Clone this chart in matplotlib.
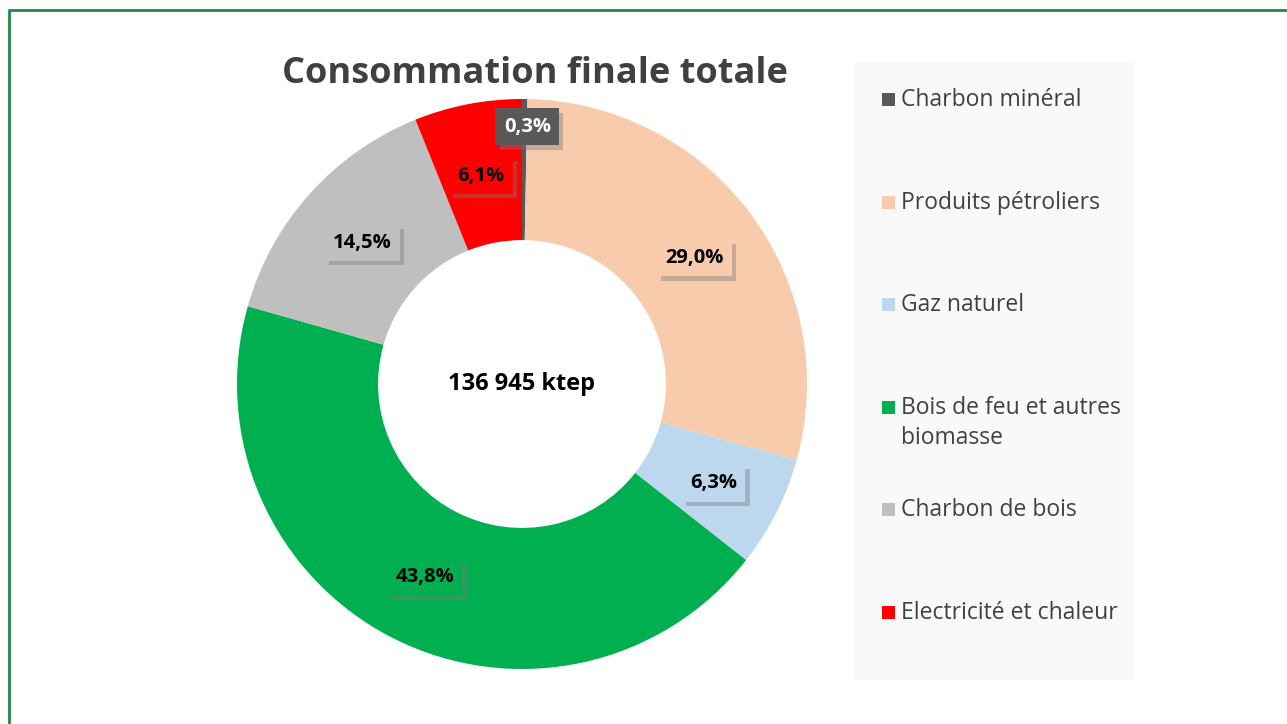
import numpy as np
import matplotlib
matplotlib.use("Agg")
import matplotlib.pyplot as plt
import matplotlib.patheffects as pe
from matplotlib.patches import Rectangle
from matplotlib.lines import Line2D

plt.rcParams['font.family'] = ['Open Sans', 'DejaVu Sans']

# data
categories = ["Charbon minéral", "Produits pétroliers", "Gaz naturel",
              "Bois de feu et autres\nbiomasse", "Charbon de bois",
              "Electricité et chaleur"]
shares = [0.3, 29.0, 6.3, 43.8, 14.5, 6.1]
colors = ["#595959", "#F8CBAD", "#BDD7EE", "#00B050", "#BFBFBF", "#FF0000"]
label_colors = ["white", "black", "black", "black", "black", "black"]
total_text = "136 945 ktep"
title = "Consommation finale totale"

W, H = 1287, 724
fig = plt.figure(figsize=(W / 100, H / 100), dpi=100)
fig.patch.set_facecolor("white")

# donut axes: center (522, 384) px, radius 285 px
cx, cy, r = 522, 384, 285
ax = fig.add_axes([(cx - r) / W, (H - cy - r) / H, 2 * r / W, 2 * r / H])
ax.set_aspect("equal")
ax.axis("off")

wedges, _ = ax.pie(shares, colors=colors, startangle=90, counterclock=False,
                   radius=1.0, wedgeprops=dict(width=0.495, edgecolor="none"))
ax.set_xlim(-1, 1)
ax.set_ylim(-1, 1)

# data labels
for i, w in enumerate(wedges):
    ang = np.deg2rad((w.theta1 + w.theta2) / 2)
    rr = 0.91 if shares[i] < 1 else 0.753
    x, y = rr * np.cos(ang), rr * np.sin(ang) - 0.008
    if shares[i] < 1:
        x += 0.01
    txt = f"{shares[i]:.1f}%".replace(".", ",")
    t = ax.text(x, y, txt, ha="center", va="center", fontsize=14.5,
                fontweight="bold", color=label_colors[i],
                bbox=dict(boxstyle="square,pad=0.42", facecolor=colors[i],
                          edgecolor="none"))
    t.get_bbox_patch().set_path_effects([
        pe.SimplePatchShadow(offset=(3, -3), shadow_rgbFace="#7a7a7a", alpha=0.4),
        pe.Normal()])

ax.text(0, 0, total_text, ha="center", va="center", fontsize=17,
        fontweight="bold", color="black")

fig.text(535 / W, 1 - 74 / H, title, ha="center", va="center", fontsize=26,
         fontweight="bold", color="#404040")

# legend panel
fig.add_artist(Rectangle((854 / W, 1 - 680 / H), 280 / W, 618 / H,
                         transform=fig.transFigure, facecolor="#F9F9F9",
                         edgecolor="none", zorder=0))
y0, step, line_h = 100, 102.6, 30
for i, lab in enumerate(categories):
    yy = y0 + i * step
    fig.add_artist(Rectangle((882 / W, 1 - (yy + 6) / H), 13 / W, 13 / H,
                             transform=fig.transFigure, facecolor=colors[i],
                             edgecolor="none"))
    for j, line in enumerate(lab.split("\n")):
        fig.text(901 / W, 1 - (yy + j * line_h) / H, line, ha="left",
                 va="center", fontsize=16.5, color="#404040")

# outer green border (top and left visible)
fig.add_artist(Line2D([8.5 / W, 8.5 / W, 1.0], [0.0, 1 - 9.5 / H, 1 - 9.5 / H],
                      transform=fig.transFigure, color="#1E8B4C", lw=2))

fig.savefig("out.png", dpi=100)
